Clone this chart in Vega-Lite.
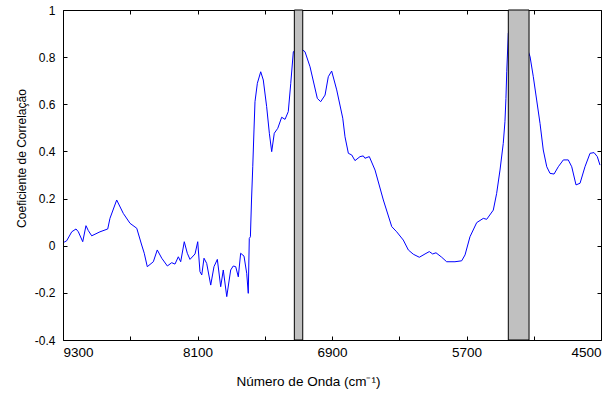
{
  "$schema": "https://vega.github.io/schema/vega-lite/v6.json",
  "width": 538,
  "height": 330,
  "autosize": {"type": "none"},
  "padding": {"left": 63, "top": 10, "right": 11, "bottom": 56},
  "config": {
    "view": {"stroke": "#000000", "strokeWidth": 1},
    "font": "Liberation Sans",
    "axis": {
      "grid": false,
      "domain": false,
      "ticks": true,
      "tickColor": "#000000",
      "tickWidth": 1,
      "tickSize": 4,
      "offset": -4,
      "labelColor": "#000000",
      "titleColor": "#000000",
      "titleFontWeight": "normal",
      "labelFont": "Liberation Sans",
      "titleFont": "Liberation Sans"
    }
  },
  "datasets": {
    "curve": [
      {"wavenumber": 9290, "r": 0.015},
      {"wavenumber": 9267, "r": 0.021},
      {"wavenumber": 9222, "r": 0.059},
      {"wavenumber": 9184, "r": 0.071},
      {"wavenumber": 9163, "r": 0.059},
      {"wavenumber": 9124, "r": 0.017},
      {"wavenumber": 9095, "r": 0.085},
      {"wavenumber": 9074, "r": 0.064},
      {"wavenumber": 9044, "r": 0.042},
      {"wavenumber": 8970, "r": 0.059},
      {"wavenumber": 8901, "r": 0.071},
      {"wavenumber": 8881, "r": 0.116},
      {"wavenumber": 8821, "r": 0.194},
      {"wavenumber": 8762, "r": 0.137},
      {"wavenumber": 8702, "r": 0.095},
      {"wavenumber": 8642, "r": 0.074},
      {"wavenumber": 8598, "r": 0.003},
      {"wavenumber": 8575, "r": -0.032},
      {"wavenumber": 8548, "r": -0.089},
      {"wavenumber": 8494, "r": -0.068},
      {"wavenumber": 8459, "r": -0.018},
      {"wavenumber": 8419, "r": -0.053},
      {"wavenumber": 8369, "r": -0.086},
      {"wavenumber": 8330, "r": -0.072},
      {"wavenumber": 8301, "r": -0.078},
      {"wavenumber": 8271, "r": -0.047},
      {"wavenumber": 8250, "r": -0.068},
      {"wavenumber": 8218, "r": 0.017},
      {"wavenumber": 8191, "r": -0.032},
      {"wavenumber": 8167, "r": -0.058},
      {"wavenumber": 8122, "r": -0.035},
      {"wavenumber": 8098, "r": 0.017},
      {"wavenumber": 8078, "r": -0.110},
      {"wavenumber": 8062, "r": -0.124},
      {"wavenumber": 8042, "r": -0.053},
      {"wavenumber": 8018, "r": -0.075},
      {"wavenumber": 7982, "r": -0.167},
      {"wavenumber": 7953, "r": -0.089},
      {"wavenumber": 7923, "r": -0.058},
      {"wavenumber": 7893, "r": -0.174},
      {"wavenumber": 7870, "r": -0.103},
      {"wavenumber": 7839, "r": -0.216},
      {"wavenumber": 7804, "r": -0.103},
      {"wavenumber": 7781, "r": -0.086},
      {"wavenumber": 7759, "r": -0.089},
      {"wavenumber": 7736, "r": -0.132},
      {"wavenumber": 7715, "r": -0.032},
      {"wavenumber": 7685, "r": -0.044},
      {"wavenumber": 7661, "r": -0.117},
      {"wavenumber": 7647, "r": -0.202},
      {"wavenumber": 7638, "r": 0.031},
      {"wavenumber": 7628, "r": 0.038},
      {"wavenumber": 7618, "r": 0.194},
      {"wavenumber": 7607, "r": 0.335},
      {"wavenumber": 7596, "r": 0.491},
      {"wavenumber": 7587, "r": 0.611},
      {"wavenumber": 7566, "r": 0.689},
      {"wavenumber": 7536, "r": 0.738},
      {"wavenumber": 7513, "r": 0.703},
      {"wavenumber": 7483, "r": 0.590},
      {"wavenumber": 7459, "r": 0.477},
      {"wavenumber": 7438, "r": 0.399},
      {"wavenumber": 7415, "r": 0.477},
      {"wavenumber": 7384, "r": 0.498},
      {"wavenumber": 7349, "r": 0.545},
      {"wavenumber": 7319, "r": 0.536},
      {"wavenumber": 7290, "r": 0.569},
      {"wavenumber": 7268, "r": 0.689},
      {"wavenumber": 7245, "r": 0.823},
      {"wavenumber": 7203, "r": 0.840},
      {"wavenumber": 7161, "r": 0.830},
      {"wavenumber": 7141, "r": 0.823},
      {"wavenumber": 7096, "r": 0.759},
      {"wavenumber": 7031, "r": 0.625},
      {"wavenumber": 7001, "r": 0.611},
      {"wavenumber": 6962, "r": 0.639},
      {"wavenumber": 6933, "r": 0.717},
      {"wavenumber": 6903, "r": 0.741},
      {"wavenumber": 6858, "r": 0.661},
      {"wavenumber": 6804, "r": 0.541},
      {"wavenumber": 6784, "r": 0.462},
      {"wavenumber": 6754, "r": 0.392},
      {"wavenumber": 6724, "r": 0.385},
      {"wavenumber": 6695, "r": 0.361},
      {"wavenumber": 6650, "r": 0.378},
      {"wavenumber": 6621, "r": 0.381},
      {"wavenumber": 6606, "r": 0.371},
      {"wavenumber": 6567, "r": 0.378},
      {"wavenumber": 6516, "r": 0.321},
      {"wavenumber": 6442, "r": 0.194},
      {"wavenumber": 6367, "r": 0.081},
      {"wavenumber": 6323, "r": 0.059},
      {"wavenumber": 6264, "r": 0.024},
      {"wavenumber": 6219, "r": -0.018},
      {"wavenumber": 6175, "r": -0.036},
      {"wavenumber": 6121, "r": -0.049},
      {"wavenumber": 6070, "r": -0.035},
      {"wavenumber": 6032, "r": -0.025},
      {"wavenumber": 6002, "r": -0.035},
      {"wavenumber": 5972, "r": -0.030},
      {"wavenumber": 5921, "r": -0.049},
      {"wavenumber": 5877, "r": -0.068},
      {"wavenumber": 5803, "r": -0.068},
      {"wavenumber": 5743, "r": -0.064},
      {"wavenumber": 5713, "r": -0.039},
      {"wavenumber": 5669, "r": 0.038},
      {"wavenumber": 5609, "r": 0.098},
      {"wavenumber": 5550, "r": 0.116},
      {"wavenumber": 5520, "r": 0.112},
      {"wavenumber": 5461, "r": 0.151},
      {"wavenumber": 5431, "r": 0.222},
      {"wavenumber": 5401, "r": 0.321},
      {"wavenumber": 5372, "r": 0.434},
      {"wavenumber": 5357, "r": 0.526},
      {"wavenumber": 5348, "r": 0.625},
      {"wavenumber": 5341, "r": 0.738},
      {"wavenumber": 5327, "r": 0.901},
      {"wavenumber": 5282, "r": 0.958},
      {"wavenumber": 5238, "r": 0.950},
      {"wavenumber": 5193, "r": 0.901},
      {"wavenumber": 5163, "r": 0.844},
      {"wavenumber": 5133, "r": 0.802},
      {"wavenumber": 5104, "r": 0.717},
      {"wavenumber": 5074, "r": 0.618},
      {"wavenumber": 5044, "r": 0.519},
      {"wavenumber": 5015, "r": 0.406},
      {"wavenumber": 4984, "r": 0.335},
      {"wavenumber": 4955, "r": 0.307},
      {"wavenumber": 4919, "r": 0.304},
      {"wavenumber": 4881, "r": 0.335},
      {"wavenumber": 4836, "r": 0.364},
      {"wavenumber": 4792, "r": 0.364},
      {"wavenumber": 4761, "r": 0.335},
      {"wavenumber": 4723, "r": 0.258},
      {"wavenumber": 4687, "r": 0.265},
      {"wavenumber": 4643, "r": 0.335},
      {"wavenumber": 4598, "r": 0.392},
      {"wavenumber": 4562, "r": 0.395},
      {"wavenumber": 4533, "r": 0.378},
      {"wavenumber": 4509, "r": 0.342}
    ],
    "bands": [
      {"start": 7236, "end": 7161, "lo": -0.4, "hi": 1},
      {"start": 5327, "end": 5142, "lo": -0.4, "hi": 1}
    ]
  },
  "layer": [
    {
      "data": {"name": "curve"},
      "mark": {"type": "line", "color": "#0000ff", "strokeWidth": 1},
      "encoding": {
        "x": {
          "field": "wavenumber", "type": "quantitative",
          "scale": {"domain": [4500, 9300], "reverse": true, "nice": false, "zero": false},
          "axis": {
            "orient": "bottom",
            "values": [9300, 8700, 8100, 7500, 6900, 6300, 5700, 5100, 4500],
            "labelExpr": "datum.value % 1200 == 900 ? '' + datum.value : ''",
            "labelFlush": true,
            "labelFontSize": 13.5,
            "labelPadding": 5,
            "title": "Número de Onda  (cm⁻¹)",
            "titleFontSize": 13.5,
            "titlePadding": 16,
            "titleX": 245
          }
        },
        "y": {
          "field": "r", "type": "quantitative",
          "scale": {"domain": [-0.4, 1], "nice": false, "zero": false},
          "axis": {
            "orient": "left",
            "values": [-0.4, -0.2, 0, 0.2, 0.4, 0.6, 0.8, 1],
            "labelExpr": "'' + datum.value",
            "labelFontSize": 12,
            "labelPadding": 8,
            "title": "Coeficiente de Correlação",
            "titleFontSize": 12,
            "titlePadding": 6,
            "titleY": 148
          }
        }
      }
    },
    {
      "data": {"name": "bands"},
      "mark": {"type": "rect", "fill": "#c0c0c0", "stroke": "#000000", "strokeWidth": 1},
      "encoding": {
        "x": {
          "field": "start", "type": "quantitative",
          "axis": {
            "orient": "top",
            "values": [9300, 8700, 8100, 7500, 6900, 6300, 5700, 5100, 4500],
            "labels": false,
            "title": null
          }
        },
        "x2": {"field": "end"},
        "y": {
          "field": "lo", "type": "quantitative",
          "axis": {
            "orient": "right",
            "values": [-0.4, -0.2, 0, 0.2, 0.4, 0.6, 0.8, 1],
            "labels": false,
            "title": null
          }
        },
        "y2": {"field": "hi"}
      }
    }
  ],
  "resolve": {"axis": {"x": "independent", "y": "independent"}}
}
